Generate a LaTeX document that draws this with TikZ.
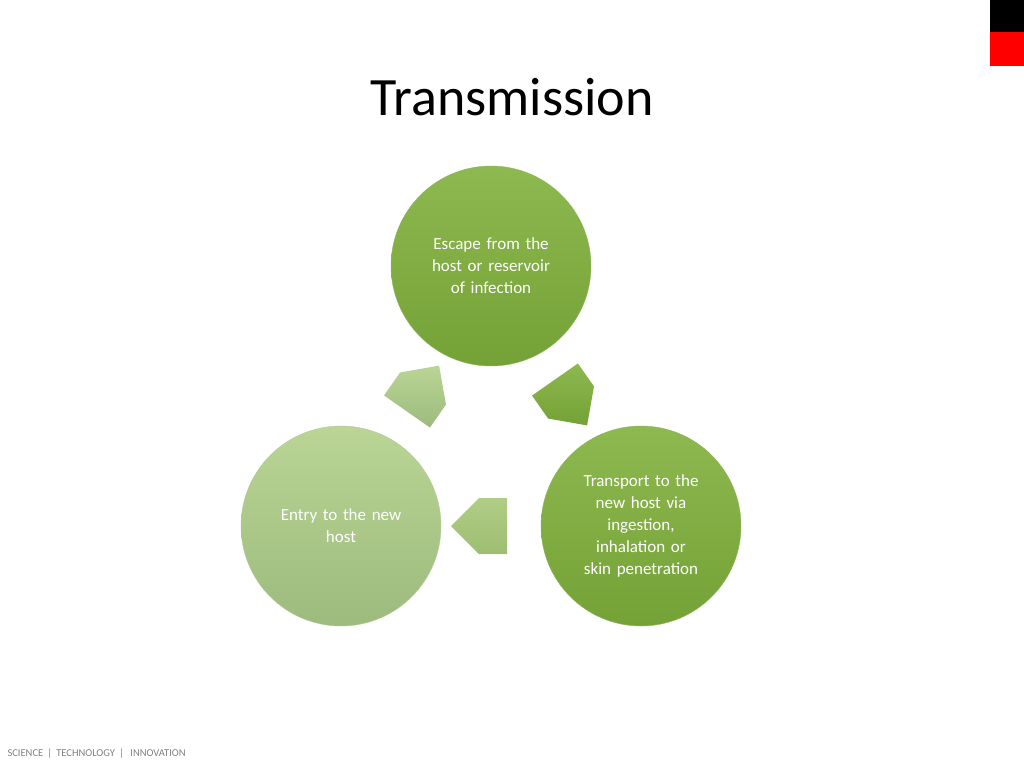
\documentclass[tikz,border=0pt]{standalone}
\usepackage{fontspec}
\setmainfont{Carlito}
\usetikzlibrary{shapes.arrows}
\definecolor{gA}{HTML}{8EB850}
\definecolor{gB}{HTML}{74A236}
\definecolor{lA}{HTML}{BAD596}
\definecolor{lB}{HTML}{9CBB7C}
\begin{document}
\begin{tikzpicture}[x=1pt,y=-1pt,
  circ/.style={circle,minimum size=200pt,inner sep=0pt,align=center,text=white,font=\fontsize{17}{22}\selectfont,text width=150pt},
  dark/.style={top color=gA,bottom color=gB,draw=gB!80!white,line width=0.4pt},
  light/.style={top color=lA,bottom color=lB,draw=lB!80!white,line width=0.4pt},
  barrow/.style={single arrow,minimum height=56pt,minimum width=56pt,single arrow head extend=0pt,inner sep=0pt,single arrow head indent=0pt}]
\useasboundingbox (0,0) rectangle (1024,768);
\fill[black] (990,0) rectangle (1024,32);
\fill[red] (990,32) rectangle (1024,66);
\node (title) at (512,97) {\fontsize{54}{60}\selectfont Transmission};
\node[circ,dark] (top) at (491,266) {Escape from the\\host or reservoir\\of infection\\[44pt]};
\node[circ,dark] (right) at (641,526) {Transport to the\\new host via\\ingestion,\\inhalation or\\skin penetration};
\node[circ,light] (left) at (341,526) {Entry to the new\\host\\[22pt]};
\node[barrow,rotate=-55,top color=gA,bottom color=gB] (a1) at (563,391) {};
\node[barrow,rotate=180,top color=gA!70!white,bottom color=gB!70!white] (a2) at (493,526) {};
\node[barrow,rotate=55,top color=lA,bottom color=lB] (a3) at (415,400) {};
\node[anchor=west,text=gray] (foot) at (4,754) {\fontsize{10.5}{12}\selectfont SCIENCE \,|\, TECHNOLOGY \,|\, \ INNOVATION};
\end{tikzpicture}
\end{document}
